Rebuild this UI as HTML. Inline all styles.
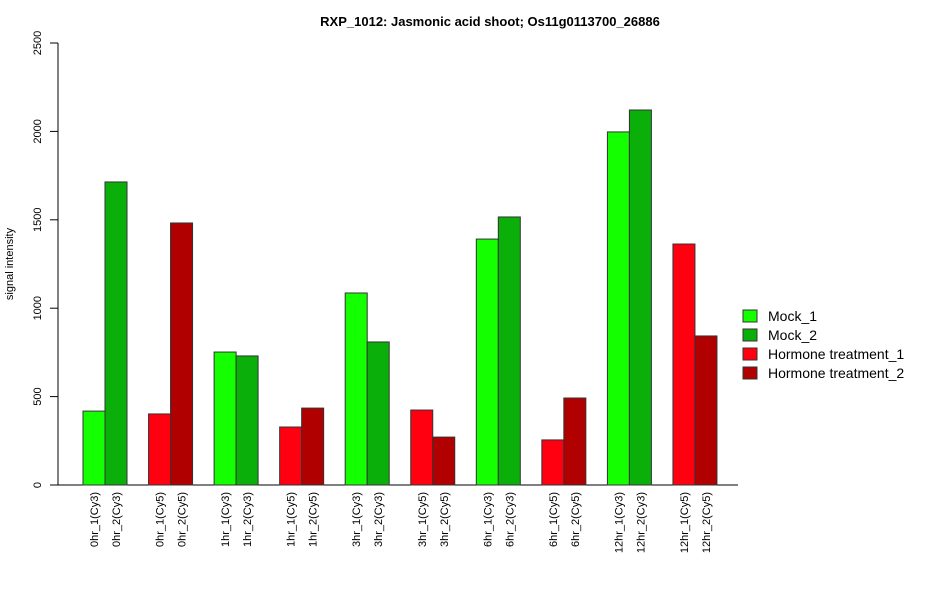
<!DOCTYPE html>
<html><head><meta charset="utf-8"><style>
body{margin:0;background:#fff;font-family:"Liberation Sans",Arial,sans-serif}
</style></head><body>
<svg width="950" height="600" viewBox="0 0 950 600" xmlns="http://www.w3.org/2000/svg" font-family="Liberation Sans, Arial, sans-serif">
<text x="490" y="26" text-anchor="middle" font-size="13" font-weight="bold">RXP_1012: Jasmonic acid shoot; Os11g0113700_26886</text>
<text transform="translate(13,264) rotate(-90)" text-anchor="middle" font-size="11">signal intensity</text>
<g id="yaxis"></g>
<g id="bars"></g>
<g id="xlabels"></g>
<g id="legend"></g>
</svg>
<script>
const labels=["0hr_1(Cy3)","0hr_2(Cy3)","0hr_1(Cy5)","0hr_2(Cy5)","1hr_1(Cy3)","1hr_2(Cy3)","1hr_1(Cy5)","1hr_2(Cy5)","3hr_1(Cy3)","3hr_2(Cy3)","3hr_1(Cy5)","3hr_2(Cy5)","6hr_1(Cy3)","6hr_2(Cy3)","6hr_1(Cy5)","6hr_2(Cy5)","12hr_1(Cy3)","12hr_2(Cy3)","12hr_1(Cy5)","12hr_2(Cy5)"];
const values=[418,1714,402,1482,752,730,328,435,1086,809,424,271,1391,1516,255,492,1997,2121,1363,843];
const seriesIdx=[0,1,2,3,0,1,2,3,0,1,2,3,0,1,2,3,0,1,2,3];
const seriesNames=["Mock_1","Mock_2","Hormone treatment_1","Hormone treatment_2"];
const yTicks=[0,500,1000,1500,2000,2500];
const colors=["#14ff00","#0aaf0a","#ff0010","#b00000"];
const NS="http://www.w3.org/2000/svg";
const y=v=>485-v*(442/2500);
const barX=i=>83+Math.floor(i/2)*65.55+(i%2)*22;
function mk(t,a,p){const e=document.createElementNS(NS,t);for(const k in a)e.setAttribute(k,a[k]);p.appendChild(e);return e;}
const ya=document.getElementById('yaxis');
let l=mk('line',{x1:58,x2:58,y1:y(0),y2:y(2500),stroke:'#000'},ya);


l=mk('line',{x1:50,x2:738,y1:485,y2:485,stroke:'#000'},ya);


yTicks.forEach(v=>{
 const t=mk('line',{x1:50,x2:58,y1:y(v),y2:y(v),stroke:'#000'},ya);
 
 
 const tx=mk('text',{transform:`translate(41,${y(v)}) rotate(-90)`,'text-anchor':'middle','font-size':11},ya);
 tx.textContent=v;
 
 
});
const bg=document.getElementById('bars'),xg=document.getElementById('xlabels');
values.forEach((v,i)=>{
 const r=mk('rect',{x:barX(i),y:y(v),width:22,height:y(0)-y(v),fill:colors[seriesIdx[i]],stroke:'#333','stroke-width':1},bg);
 
 
 const t=mk('text',{transform:`translate(${barX(i)+15},492) rotate(-90)`,'text-anchor':'end','font-size':11},xg);
 t.textContent=labels[i];
 
 
});
const lg=document.getElementById('legend');
seriesNames.forEach((n,i)=>{
 const yy=310+i*19;
 const r=mk('rect',{x:743,y:yy,width:14,height:12,fill:colors[i],stroke:'#333'},lg);
 
 
 const t=mk('text',{x:768,y:yy+11,'font-size':14},lg);
 t.textContent=n;
 
 
});
</script>
</body></html>
